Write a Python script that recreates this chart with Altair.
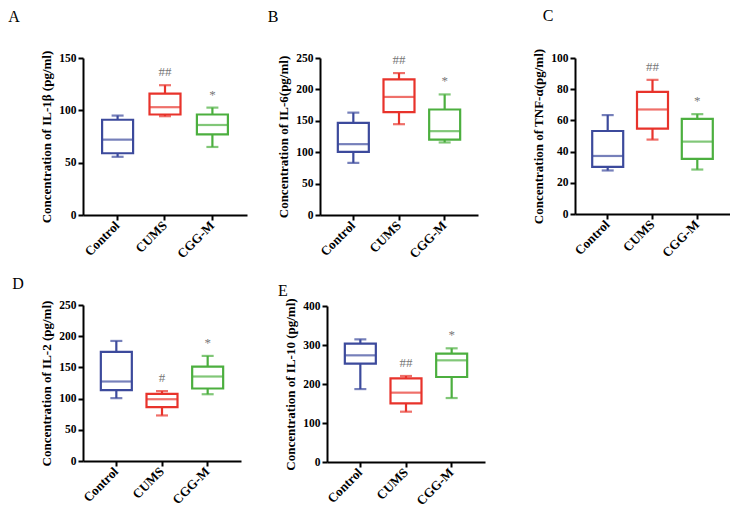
import altair as alt
import pandas as pd

FONT = "Liberation Serif"

groups = ["Control", "CUMS", "CGG-M"]
colors = ["#3c4a9c", "#e8332b", "#4caf3f"]

# A: IL-1beta
a_min = [55.6, 94.4, 65.0]
a_q1 = [59.0, 96.0, 77.0]
a_med = [72.0, 103.0, 86.0]
a_q3 = [91.0, 116.0, 96.0]
a_max = [95.0, 124.0, 102.6]
a_sig = ["", "##", "*"]

# B: IL-6
b_min = [83.0, 144.6, 115.5]
b_q1 = [100.6, 163.7, 120.0]
b_med = [112.8, 188.0, 133.5]
b_q3 = [146.7, 216.0, 168.0]
b_max = [163.0, 226.0, 192.0]
b_sig = ["", "##", "*"]

# C: TNF-alpha
c_min = [27.9, 47.7, 28.5]
c_q1 = [30.2, 54.7, 35.3]
c_med = [37.2, 67.0, 46.4]
c_q3 = [53.2, 78.3, 61.0]
c_max = [63.4, 86.0, 64.0]
c_sig = ["", "##", "*"]

# D: IL-2
d_min = [100.7, 73.0, 107.0]
d_q1 = [113.5, 86.4, 116.2]
d_med = [127.4, 99.0, 135.4]
d_q3 = [174.8, 107.7, 151.4]
d_max = [192.4, 112.0, 168.4]
d_sig = ["", "#", "*"]

# E: IL-10
e_min = [187.0, 129.0, 164.0]
e_q1 = [252.0, 150.4, 218.0]
e_med = [273.5, 177.8, 260.7]
e_q3 = [303.4, 214.5, 277.8]
e_max = [314.5, 220.5, 291.5]
e_sig = ["", "##", "*"]


def panel(letter, lx, ly, padL, padT, padB, ytitle, ymax, ystep, w, h,
          mn, q1, med, q3, mx, sig):
    df = pd.DataFrame({"group": groups, "min": mn, "q1": q1, "median": med,
                       "q3": q3, "max": mx, "sig": sig})
    xaxis = alt.Axis(title=None, labelAngle=-45, labelAlign="right",
                     labelBaseline="middle", labelPadding=3, labelFontSize=13)
    x = alt.X("group:N", sort=groups,
              scale=alt.Scale(domain=groups, paddingInner=0.3, paddingOuter=0.38),
              axis=xaxis)
    yscale = alt.Scale(domain=[0, ymax], nice=False)
    yaxis = alt.Axis(title=ytitle, values=list(range(0, ymax + 1, ystep)))

    def Y(f):
        return alt.Y(f, scale=yscale, axis=yaxis, title=ytitle)

    color = alt.Color("group:N", scale=alt.Scale(domain=groups, range=colors), legend=None)
    stroke = alt.Stroke("group:N", scale=alt.Scale(domain=groups, range=colors), legend=None)
    base = alt.Chart(df)
    box = base.mark_bar(size=31, fill="white", strokeWidth=2.2).encode(
        x=x, y=Y("q1:Q"), y2="q3:Q", stroke=stroke)
    lower = base.mark_rule(strokeWidth=2.2).encode(x=x, y=Y("min:Q"), y2="q1:Q", color=color)
    upper = base.mark_rule(strokeWidth=2.2).encode(x=x, y=Y("q3:Q"), y2="max:Q", color=color)
    capmin = base.mark_tick(size=12, thickness=2.2).encode(x=x, y=Y("min:Q"), color=color)
    capmax = base.mark_tick(size=12, thickness=2.2).encode(x=x, y=Y("max:Q"), color=color)
    medt = base.mark_tick(size=31, thickness=2.2).encode(x=x, y=Y("median:Q"), color=color)
    sigt = base.mark_text(dy=-13, font=FONT, fontSize=13, color="#777777").encode(
        x=x, y=Y("max:Q"), text="sig:N")
    one = alt.Chart(pd.DataFrame({"t": [letter]}))
    lab = one.mark_text(font=FONT, fontSize=16, color="black", baseline="middle",
                        align="center").encode(
        x=alt.value(lx), y=alt.value(ly), text="t:N")
    spacer = one.mark_rule(strokeOpacity=0).encode(
        x=alt.value(-padL), x2=alt.value(0), y=alt.value(-padT), y2=alt.value(h + padB))
    return alt.layer(box, lower, upper, capmin, capmax, medt, sigt, lab, spacer).properties(
        width=w, height=h)


pA = panel("A", -69, -41, 75, 50, 48, "Concentration of IL-1β (pg/ml)", 150, 50, 164, 157,
           a_min, a_q1, a_med, a_q3, a_max, a_sig)
pB = panel("B", -47, -41, 73, 50, 48, "Concentration of IL-6(pg/ml)", 250, 50, 158, 157,
           b_min, b_q1, b_med, b_q3, b_max, b_sig)
pC = panel("C", -27, -42, 97, 50, 48, "Concentration of TNF-α(pg/ml)", 100, 20, 155, 156,
           c_min, c_q1, c_med, c_q3, c_max, c_sig)
pD = panel("D", -65, -21, 71, 30, 48, "Concentration of IL-2 (pg/ml)", 250, 50, 158, 156,
           d_min, d_q1, d_med, d_q3, d_max, d_sig)
pE = panel("E", -44, -15, 80, 31, 48, "Concentration of IL-10 (pg/ml)", 400, 100, 158, 156,
           e_min, e_q1, e_med, e_q3, e_max, e_sig)

chart = alt.concat(pA, pB, pC, pD, pE, columns=3, align="none",
                   spacing={"row": 12, "column": 0}).properties(
    padding={"left": 0, "top": 0, "right": 0, "bottom": 0}
).configure_view(stroke=None).configure_axis(
    grid=False, domainColor="black", domainWidth=2, tickColor="black",
    tickWidth=2, tickSize=5, labelFont=FONT, labelFontWeight="bold",
    labelFontSize=11.5, labelColor="black", titleFont=FONT, titleFontSize=13,
    titleFontWeight="bold", titleColor="black", labelPadding=2, titlePadding=5
)

chart.save("out.html", embed_options={"renderer": "svg", "actions": False})
